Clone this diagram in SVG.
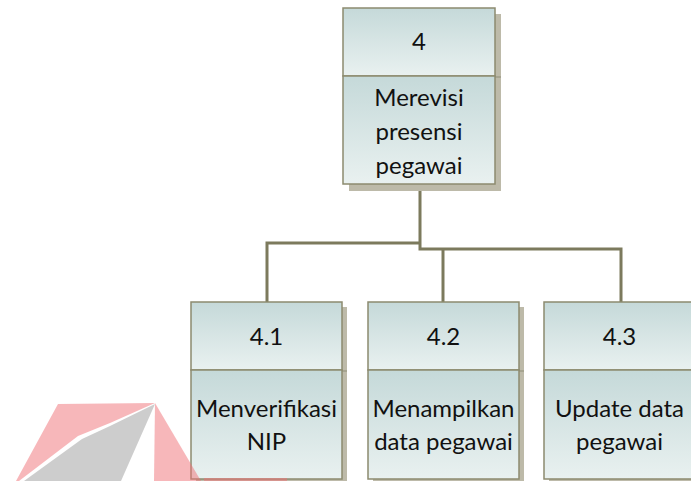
<svg xmlns="http://www.w3.org/2000/svg" width="691" height="481" viewBox="0 0 691 481">
  <defs>
    <linearGradient id="cell" x1="0" y1="0" x2="0" y2="1">
      <stop offset="0" stop-color="#c5d9d9"/>
      <stop offset="1" stop-color="#e9f1f0"/>
    </linearGradient>
    <style>
      .shadow { fill: #bdbaa9; }
      .shadow-line { stroke: #9f9c88; stroke-width: 1.5; }
      .cell { fill: url(#cell); stroke: #8c8a6f; stroke-width: 1.5; }
      .label { font-family: Lato, "Open Sans", "DejaVu Sans", sans-serif; font-size: 24px; fill: #111111; text-anchor: middle; }
      .wire { fill: none; stroke: #7c7a5d; stroke-width: 3; }
      .mark-pink { fill: #ef6f76; opacity: 0.5; }
      .mark-grey { fill: #9b9b9b; opacity: 0.5; }
    </style>
  </defs>

  <rect width="691" height="481" fill="#ffffff"/>

  <!-- connectors -->
  <g id="connectors">
    <path class="wire" d="M267 302 V243 H420"/>
    <path class="wire" d="M420 185 V249 H621 V302"/>
    <path class="wire" d="M443 249 V302"/>
  </g>

  <!-- process 4 -->
  <g id="node-4">
    <rect class="shadow" x="349" y="14" width="152" height="177"/>
    <line class="shadow-line" x1="495" y1="77" x2="501" y2="77"/>
    <rect class="cell" x="343" y="8" width="152" height="68"/>
    <rect class="cell" x="343" y="76" width="152" height="108"/>
    <text class="label" x="419" y="50">4</text>
    <text class="label" x="419" y="106">Merevisi</text>
    <text class="label" x="419" y="140">presensi</text>
    <text class="label" x="419" y="174">pegawai</text>
  </g>

  <!-- process 4.1 -->
  <g id="node-4-1">
    <rect class="shadow" x="196" y="307" width="151" height="180"/>
    <line class="shadow-line" x1="342" y1="371" x2="347" y2="371"/>
    <rect class="cell" x="191" y="302" width="151" height="68"/>
    <rect class="cell" x="191" y="370" width="151" height="109"/>
    <text class="label" x="266.5" y="345">4.1</text>
    <text class="label" x="266.5" y="417">Menverifikasi</text>
    <text class="label" x="266.5" y="450">NIP</text>
  </g>

  <!-- process 4.2 -->
  <g id="node-4-2">
    <rect class="shadow" x="373" y="307" width="151" height="180"/>
    <line class="shadow-line" x1="519" y1="371" x2="524" y2="371"/>
    <rect class="cell" x="368" y="302" width="151" height="68"/>
    <rect class="cell" x="368" y="370" width="151" height="109"/>
    <text class="label" x="443.5" y="345">4.2</text>
    <text class="label" x="443.5" y="417">Menampilkan</text>
    <text class="label" x="443.5" y="450">data pegawai</text>
  </g>

  <!-- process 4.3 -->
  <g id="node-4-3">
    <rect class="shadow" x="549" y="307" width="151" height="180"/>
    <rect class="cell" x="544" y="302" width="151" height="68"/>
    <rect class="cell" x="544" y="370" width="151" height="109"/>
    <text class="label" x="619.5" y="345">4.3</text>
    <text class="label" x="619.5" y="417">Update data</text>
    <text class="label" x="619.5" y="450">pegawai</text>
  </g>

  <!-- faint emblem in the lower left corner -->
  <g id="emblem">
    <polygon class="mark-pink" points="58,404 155,403 110,423 78,436 19,481 16,481"/>
    <polygon class="mark-grey" points="155,404 110,426 82,439 24,481 121,481"/>
    <polygon class="mark-pink" points="155,403 201,481 154,481"/>
    <rect class="mark-pink" x="204" y="478" width="83" height="3"/>
  </g>
</svg>
